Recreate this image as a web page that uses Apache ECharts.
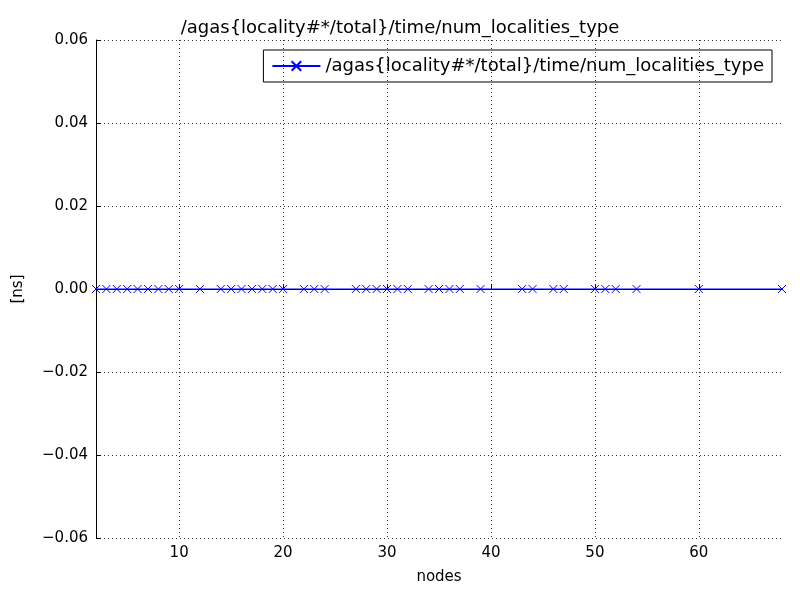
<!DOCTYPE html>
<html><head><meta charset="utf-8">
<script src="https://cdn.jsdelivr.net/npm/echarts@6/dist/echarts.min.js"></script>
<style>html,body{margin:0;padding:0;background:#fff}#c{width:800px;height:600px}</style>
</head><body><div id="c"></div>
<script>
const seriesName = '/agas{locality#*/total}/time/num_localities_type';
const nodes = [2,3,4,5,6,7,8,9,10,12,14,15,16,17,18,19,20,22,23,24,27,28,29,30,31,32,34,35,36,37,39,43,44,46,47,50,51,52,54,60,68];
const values = nodes.map(() => 0);
const xTicks = [10,20,30,40,50,60];
const chart = echarts.init(document.getElementById('c'));
const font = 'DejaVu Sans';
chart.setOption({
  animation:false,
  title:{text:seriesName,left:'center',top:14,textStyle:{fontFamily:font,fontSize:18,fontWeight:'normal',color:'#000'}},
  legend:{show:true,right:28,top:50,itemWidth:48,itemHeight:12,padding:[7,8],borderColor:'#000',borderWidth:1,borderRadius:0,
    textStyle:{fontFamily:font,fontSize:18,color:'#000'},data:[seriesName]},
  grid:{left:96,right:18,top:40,bottom:62},
  xAxis:{type:'value',min:2,max:68,name:'nodes',nameLocation:'middle',nameGap:32,
    nameTextStyle:{fontFamily:font,fontSize:15,color:'#000'},
    axisLine:{lineStyle:{color:'#000'}},axisTick:{inside:true,length:5,customValues:xTicks,lineStyle:{color:'#000'}},
    axisLabel:{fontFamily:font,fontSize:15,color:'#000',customValues:xTicks},
    splitLine:{show:true,lineStyle:{color:'#000',type:[1,3],width:0.8}}},
  yAxis:{type:'value',min:-0.06,max:0.06,interval:0.02,name:'[ns]',nameLocation:'middle',nameGap:70,
    nameTextStyle:{fontFamily:font,fontSize:15,color:'#000'},
    axisLine:{lineStyle:{color:'#000'}},axisTick:{inside:true,length:5,lineStyle:{color:'#000'}},
    axisLabel:{fontFamily:font,fontSize:15,color:'#000',formatter:v=>{const s=Math.abs(v).toFixed(2);return v<-1e-9?'\u2212'+s:s;}},
    splitLine:{show:true,lineStyle:{color:'#000',type:[1,3],width:0.8}}},
  series:[{name:seriesName,type:'line',data:nodes.map((n,i)=>[n,values[i]]),
    symbol:'path://M0,0L10,10M10,0L0,10',symbolSize:8,showAllSymbol:true,
    lineStyle:{color:'#0000ff',width:1},itemStyle:{color:'none',borderColor:'#0000ff',borderWidth:1},color:'#0000ff'}]
});
</script></body></html>
